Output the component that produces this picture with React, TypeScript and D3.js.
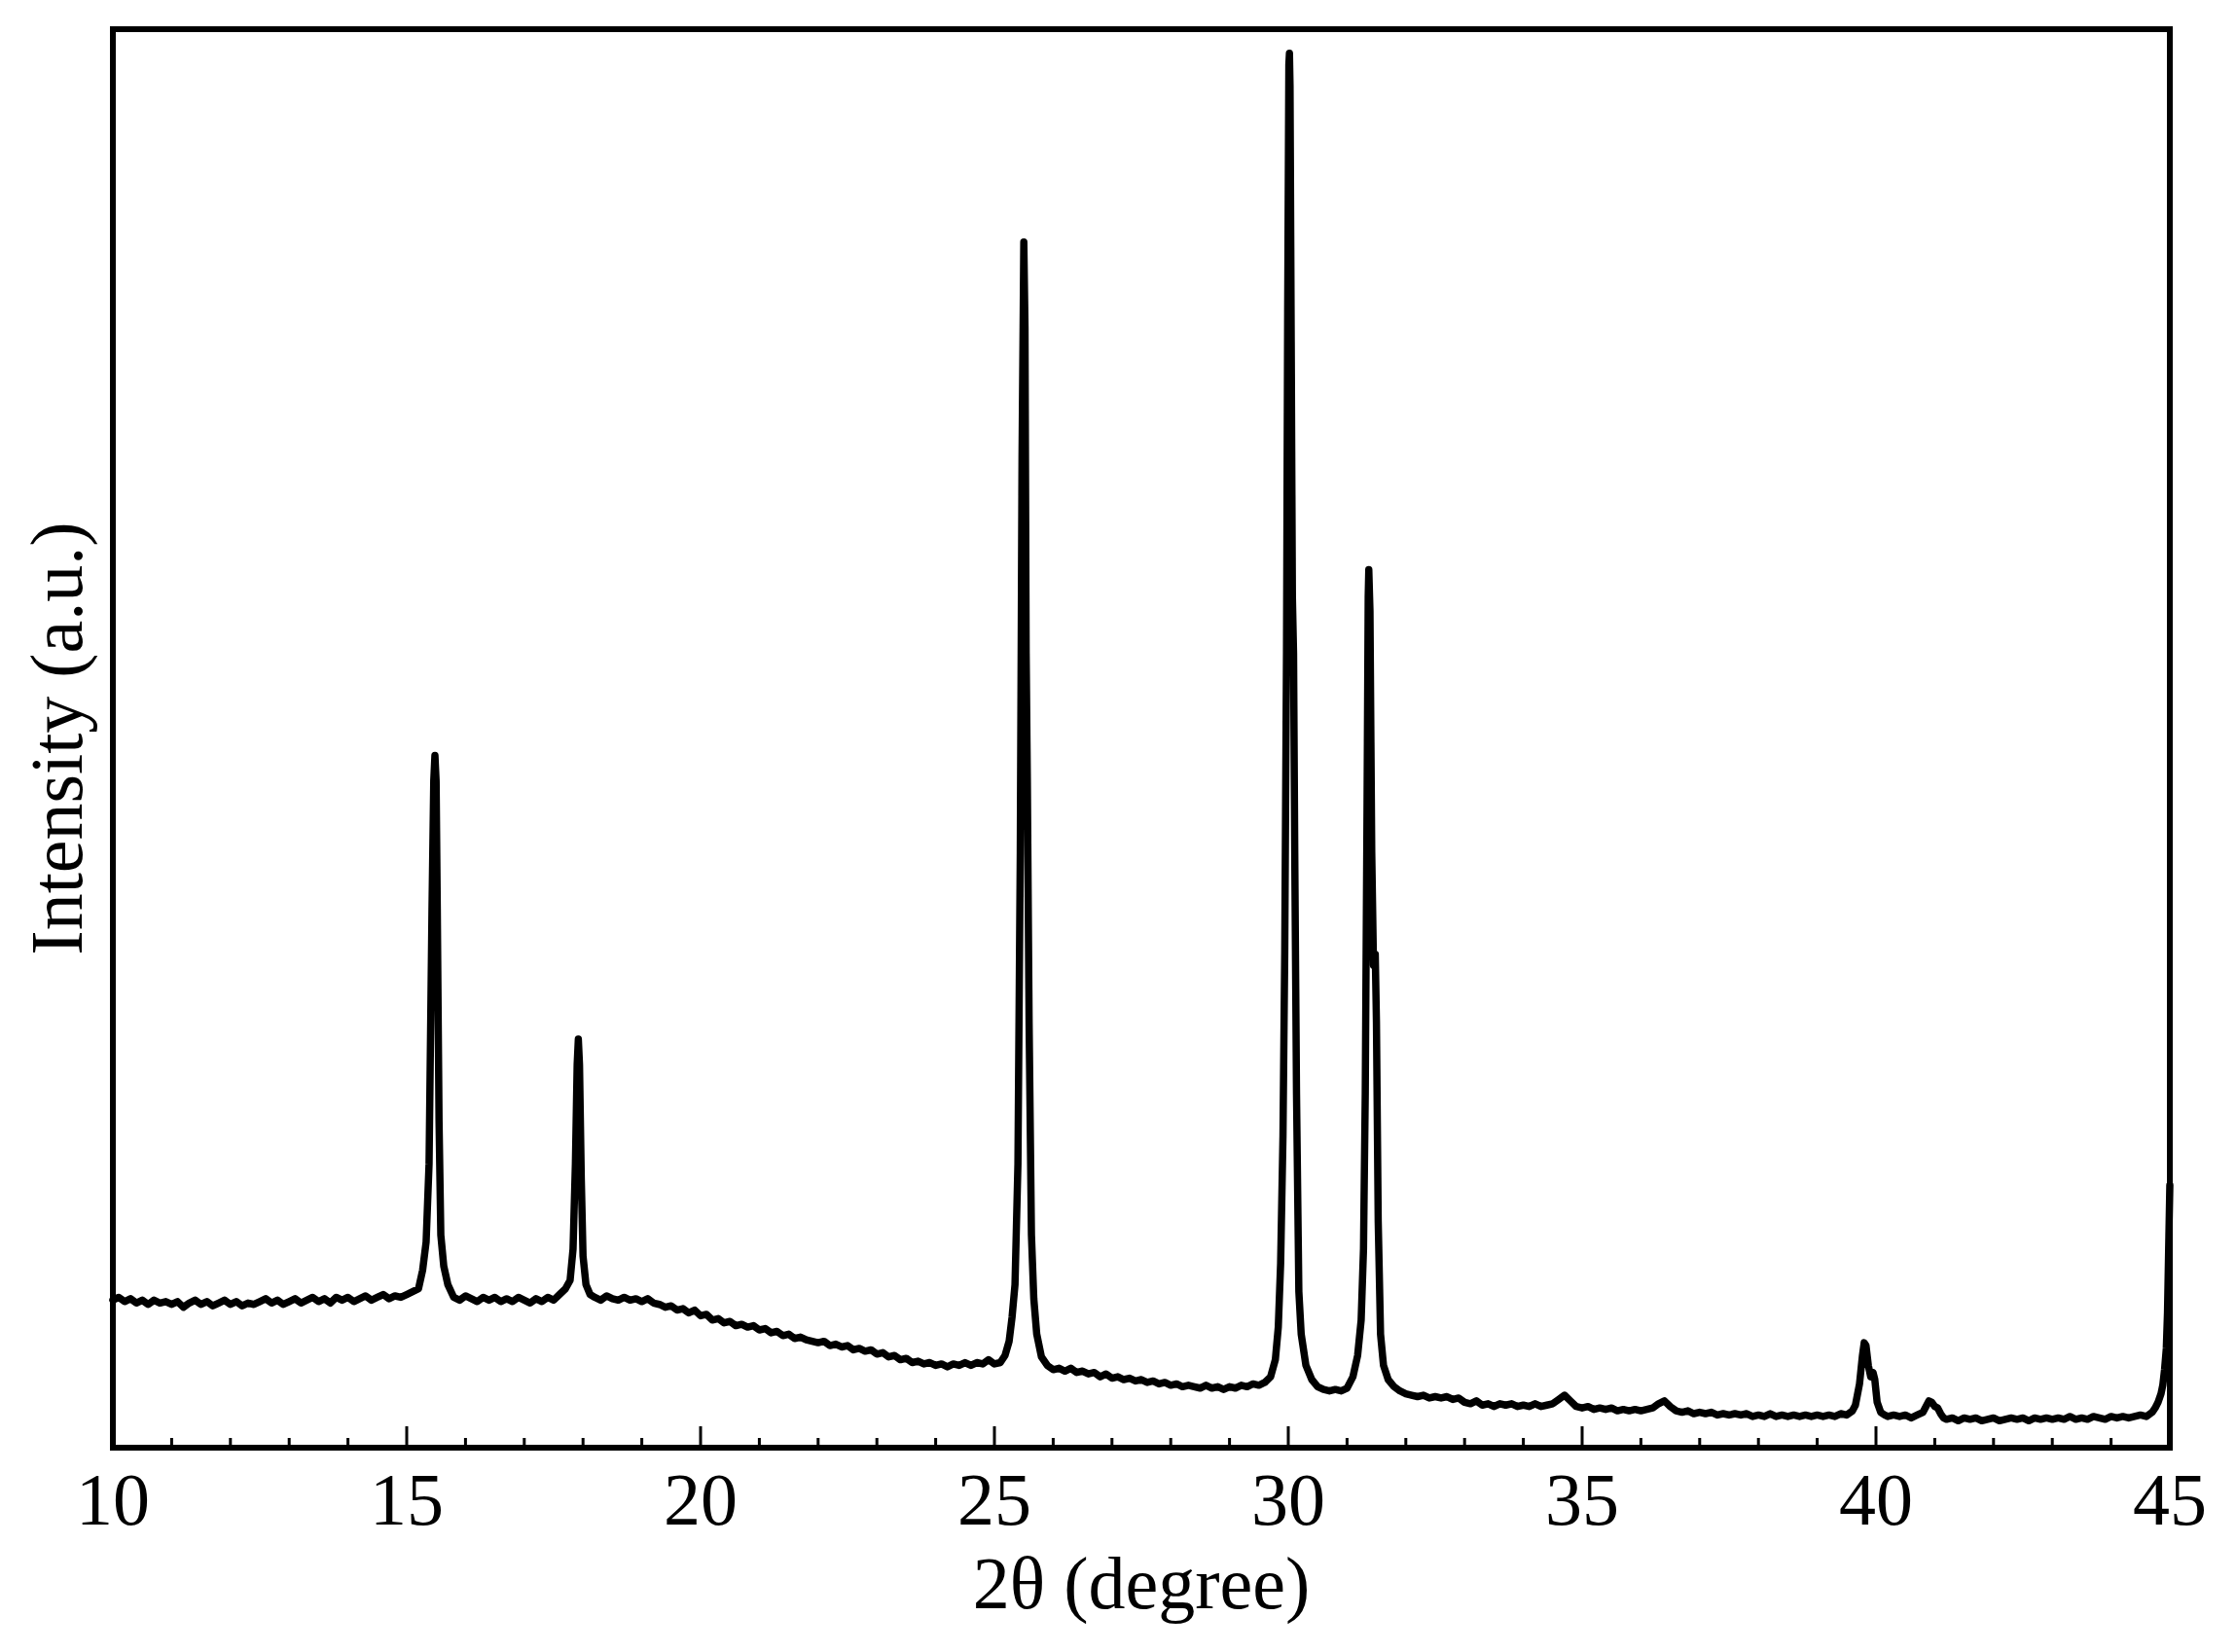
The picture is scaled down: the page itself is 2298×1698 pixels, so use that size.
import React, { useEffect, useRef } from "react";
import * as d3 from "d3";

type Pt = [number, number]; // [2theta, intensity]

// baseline 10 - 15.1
const base10to15: Pt[] = [
  [10.0, 104], [10.1, 106], [10.2, 103], [10.3, 105], [10.4, 102], [10.5, 104], [10.6, 101], [10.7, 104],
  [10.8, 102], [10.9, 103], [11.0, 101], [11.1, 103], [11.2, 99], [11.3, 102], [11.4, 104], [11.5, 101],
  [11.6, 103], [11.7, 100], [11.8, 102], [11.9, 104], [12.0, 101], [12.1, 103], [12.2, 100], [12.3, 102],
  [12.4, 101], [12.5, 103], [12.6, 105], [12.7, 102], [12.8, 104], [12.9, 101], [13.0, 103], [13.1, 105],
  [13.2, 102], [13.3, 104], [13.4, 106], [13.5, 103], [13.6, 105], [13.7, 102], [13.8, 106], [13.9, 104],
  [14.0, 106], [14.1, 103], [14.2, 105], [14.3, 107], [14.4, 104], [14.5, 106], [14.6, 108], [14.7, 105],
  [14.8, 107], [14.9, 106], [15.0, 108], [15.1, 110],
];

const peak15: Pt[] = [
  [15.2, 112], [15.27, 125], [15.33, 145], [15.38, 200], [15.43, 380], [15.46, 470], [15.48, 488],
  [15.5, 470], [15.52, 380], [15.55, 230], [15.58, 150], [15.63, 128], [15.7, 115],
];

const base16to17: Pt[] = [
  [15.8, 106], [15.9, 104], [16.0, 107], [16.1, 105], [16.2, 103], [16.3, 106], [16.4, 104], [16.5, 106],
  [16.6, 103], [16.7, 105], [16.8, 103], [16.9, 106], [17.0, 104], [17.1, 102], [17.2, 105], [17.3, 103],
  [17.4, 106], [17.5, 104], [17.6, 108],
];

const peak18: Pt[] = [
  [17.7, 112], [17.78, 118], [17.83, 140], [17.87, 200], [17.9, 270], [17.92, 288], [17.94, 270],
  [17.97, 190], [18.0, 135], [18.05, 115], [18.12, 108],
];

const base18to25: Pt[] = [
  [18.2, 106], [18.3, 104], [18.4, 107], [18.5, 105], [18.6, 104], [18.7, 106], [18.8, 104], [18.9, 105],
  [19.0, 103], [19.1, 105], [19.2, 102], [19.3, 101], [19.4, 99], [19.5, 100], [19.6, 97], [19.7, 98],
  [19.8, 95], [19.9, 97], [20.0, 93], [20.1, 94], [20.2, 90], [20.3, 91], [20.4, 88], [20.5, 89],
  [20.6, 86], [20.7, 87], [20.8, 85], [20.9, 86], [21.0, 83], [21.1, 84], [21.2, 81], [21.3, 82],
  [21.4, 79], [21.5, 80], [21.6, 77], [21.7, 78], [21.8, 76], [21.9, 75], [22.0, 74], [22.1, 75],
  [22.2, 72], [22.3, 73], [22.4, 71], [22.5, 72], [22.6, 69], [22.7, 70], [22.8, 68], [22.9, 69],
  [23.0, 66], [23.1, 67], [23.2, 64], [23.3, 65], [23.4, 62], [23.5, 63], [23.6, 60], [23.7, 61],
  [23.8, 59], [23.9, 60], [24.0, 58], [24.1, 59], [24.2, 57], [24.3, 59], [24.4, 58], [24.5, 60],
  [24.6, 58], [24.7, 60], [24.8, 59], [24.9, 62], [25.0, 59], [25.1, 60],
];

const peak25: Pt[] = [
  [25.18, 65], [25.25, 75], [25.3, 92], [25.35, 115], [25.4, 200], [25.44, 420], [25.47, 700],
  [25.5, 850], [25.52, 790], [25.54, 560], [25.56, 470], [25.59, 300], [25.63, 150], [25.67, 105],
  [25.72, 80], [25.8, 64], [25.9, 58], [26.0, 55],
];

const base26to29: Pt[] = [
  [26.1, 56], [26.2, 54], [26.3, 56], [26.4, 53], [26.5, 54], [26.6, 52], [26.7, 53], [26.8, 50],
  [26.9, 52], [27.0, 49], [27.1, 50], [27.2, 48], [27.3, 49], [27.4, 47], [27.5, 48], [27.6, 46],
  [27.7, 47], [27.8, 45], [27.9, 46], [28.0, 44], [28.1, 45], [28.2, 43], [28.3, 44], [28.4, 43],
  [28.5, 42], [28.6, 44], [28.7, 42], [28.8, 43], [28.9, 41], [29.0, 43], [29.1, 42], [29.2, 44],
  [29.3, 43], [29.4, 45], [29.5, 44],
];

const peak30: Pt[] = [
  [29.6, 46], [29.7, 50], [29.78, 62], [29.83, 85], [29.87, 130], [29.91, 220], [29.94, 350],
  [29.97, 560], [29.99, 800], [30.01, 975], [30.02, 983], [30.03, 960], [30.05, 780], [30.07, 600],
  [30.09, 560], [30.11, 420], [30.14, 250], [30.18, 110], [30.22, 80], [30.3, 58], [30.4, 48],
  [30.5, 43], [30.6, 41], [30.7, 40], [30.8, 41], [30.9, 40], [31.0, 42],
];

const peak31: Pt[] = [
  [31.1, 50], [31.18, 65], [31.24, 90], [31.28, 140], [31.31, 250], [31.34, 450], [31.36, 600],
  [31.37, 619], [31.39, 590], [31.42, 420], [31.45, 340], [31.48, 348], [31.5, 300], [31.53, 160],
  [31.57, 80], [31.62, 58], [31.7, 48], [31.8, 43],
];

const base32to39: Pt[] = [
  [31.9, 40], [32.0, 38], [32.1, 37], [32.2, 36], [32.3, 37], [32.4, 35], [32.5, 36], [32.6, 35],
  [32.7, 36], [32.8, 34], [32.9, 35], [33.0, 32], [33.1, 31], [33.2, 33], [33.3, 30], [33.4, 31],
  [33.5, 29], [33.6, 31], [33.7, 30], [33.8, 31], [33.9, 29], [34.0, 30], [34.1, 29], [34.2, 31],
  [34.3, 29], [34.4, 30], [34.5, 31], [34.6, 34], [34.7, 37], [34.8, 33], [34.9, 29], [35.0, 28],
  [35.1, 29], [35.2, 27], [35.3, 28], [35.4, 27], [35.5, 28], [35.6, 26], [35.7, 27], [35.8, 26],
  [35.9, 27], [36.0, 26], [36.1, 27], [36.2, 28], [36.3, 31], [36.4, 33], [36.5, 29], [36.6, 26],
  [36.7, 25], [36.8, 26], [36.9, 24], [37.0, 25], [37.1, 24], [37.2, 25], [37.3, 23], [37.4, 24],
  [37.5, 23], [37.6, 24], [37.7, 23], [37.8, 24], [37.9, 22], [38.0, 23], [38.1, 22], [38.2, 24],
  [38.3, 22], [38.4, 23], [38.5, 22], [38.6, 23], [38.7, 22], [38.8, 23], [38.9, 22], [39.0, 23],
  [39.1, 22], [39.2, 23], [39.3, 22], [39.4, 24], [39.5, 23], [39.6, 26],
];

const peak40: Pt[] = [
  [39.65, 30], [39.72, 45], [39.77, 65], [39.8, 74], [39.83, 72], [39.87, 58], [39.91, 50],
  [39.95, 53], [39.98, 48], [40.02, 32], [40.08, 25], [40.15, 23],
  [40.2, 22], [40.3, 23], [40.4, 22], [40.5, 23], [40.6, 21], [40.7, 23], [40.8, 25],
  [40.85, 29], [40.9, 33], [40.95, 32], [41.0, 29], [41.05, 28], [41.1, 24], [41.15, 21],
];

const base41to45: Pt[] = [
  [41.2, 20], [41.3, 21], [41.4, 19], [41.5, 21], [41.6, 20], [41.7, 21], [41.8, 19], [41.9, 20],
  [42.0, 21], [42.1, 19], [42.2, 20], [42.3, 21], [42.4, 20], [42.5, 21], [42.6, 19], [42.7, 21],
  [42.8, 20], [42.9, 21], [43.0, 20], [43.1, 21], [43.2, 20], [43.3, 22], [43.4, 20], [43.5, 21],
  [43.6, 20], [43.7, 22], [43.8, 21], [43.9, 20], [44.0, 22], [44.1, 21], [44.2, 22], [44.3, 21],
  [44.4, 22], [44.5, 23], [44.6, 22], [44.7, 25], [44.75, 28], [44.8, 32], [44.85, 38], [44.88, 44],
  [44.91, 55], [44.94, 70], [44.96, 95], [44.98, 140], [45.0, 185],
];

const xTickLabels = [10, 15, 20, 25, 30, 35, 40, 45];
const xMinorTicks = d3.range(11, 45, 1).filter((d) => d % 5 !== 0);

const W = 2298;
const H = 1698;
const left = 116;
const right = 2230;
const top = 30;
const bottom = 1488;

const App: React.FC = () => {
  const svgRef = useRef<SVGSVGElement | null>(null);

  useEffect(() => {
    if (!svgRef.current) return;
    const svg = d3.select(svgRef.current);
    svg.selectAll("*").remove();

    const x = d3.scaleLinear().domain([10, 45]).range([left, right]);
    const y = d3.scaleLinear().domain([0, 1000]).range([bottom, top]);

    const data = [
      ...base10to15, ...peak15, ...base16to17, ...peak18, ...base18to25, ...peak25,
      ...base26to29, ...peak30, ...peak31, ...base32to39, ...peak40, ...base41to45,
    ];

    const line = d3
      .line<Pt>()
      .x((d) => x(d[0]))
      .y((d) => y(d[1]));

    svg
      .append("path")
      .datum(data)
      .attr("d", line)
      .attr("fill", "none")
      .attr("stroke", "#000")
      .attr("stroke-width", 7.5)
      .attr("stroke-linejoin", "round")
      .attr("stroke-linecap", "round");

    // ticks inside the bottom axis
    svg
      .selectAll(".major")
      .data(xTickLabels)
      .enter()
      .append("line")
      .attr("x1", (d) => x(d))
      .attr("x2", (d) => x(d))
      .attr("y1", bottom)
      .attr("y2", bottom - 22)
      .attr("stroke", "#000")
      .attr("stroke-width", 3);

    svg
      .selectAll(".minor")
      .data(xMinorTicks)
      .enter()
      .append("line")
      .attr("x1", (d) => x(d))
      .attr("x2", (d) => x(d))
      .attr("y1", bottom)
      .attr("y2", bottom - 10)
      .attr("stroke", "#000")
      .attr("stroke-width", 3);

    // frame
    svg
      .append("rect")
      .attr("x", left)
      .attr("y", top)
      .attr("width", right - left)
      .attr("height", bottom - top)
      .attr("fill", "none")
      .attr("stroke", "#000")
      .attr("stroke-width", 6);

    const font = "'Liberation Serif', 'Times New Roman', serif";

    svg
      .selectAll(".lbl")
      .data(xTickLabels)
      .enter()
      .append("text")
      .attr("x", (d) => x(d))
      .attr("y", 1567)
      .attr("text-anchor", "middle")
      .attr("font-family", font)
      .attr("font-size", 76)
      .text((d) => d);

    svg
      .append("text")
      .attr("x", (left + right) / 2)
      .attr("y", 1653)
      .attr("text-anchor", "middle")
      .attr("font-family", font)
      .attr("font-size", 76)
      .text("2θ (degree)");

    svg
      .append("text")
      .attr("transform", `translate(84,${(top + bottom) / 2}) rotate(-90)`)
      .attr("text-anchor", "middle")
      .attr("font-family", font)
      .attr("font-size", 76)
      .text("Intensity (a.u.)");
  }, []);

  return (
    <svg
      ref={svgRef}
      width={W}
      height={H}
      style={{ position: "absolute", left: 0, top: 0, background: "#fff" }}
    />
  );
};

export default App;
